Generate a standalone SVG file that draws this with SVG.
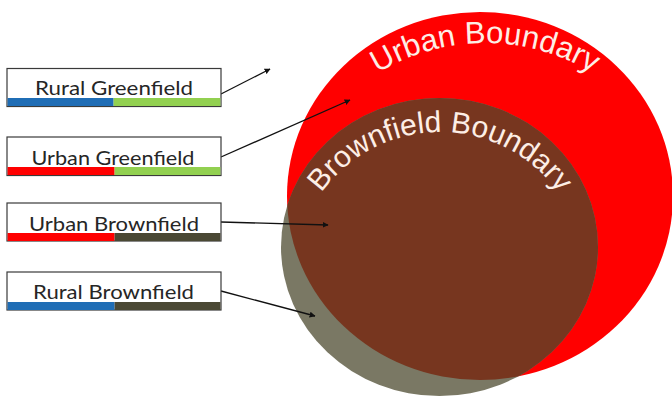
<svg xmlns="http://www.w3.org/2000/svg" width="672" height="396" viewBox="0 0 672 396">
  <style>
    .box { fill: #ffffff; stroke: #3a3a3a; stroke-width: 1.2; }
    .lbl { font-family: Lato, "Open Sans", "Liberation Sans", sans-serif; font-size: 19px; fill: #262626; text-anchor: middle; }
    .arc { font-family: "Liberation Sans", Arial, sans-serif; fill: #fdeee6; text-anchor: middle; }
    .conn { stroke: #111111; stroke-width: 1.3; fill: none; marker-end: url(#arrow); }
  </style>
  <defs>
    <marker id="arrow" viewBox="0 0 10 10" refX="9" refY="5" markerWidth="6" markerHeight="6" markerUnits="userSpaceOnUse" orient="auto">
      <path d="M0,0 L10,5 L0,10 z" fill="#111111"/>
    </marker>
    <clipPath id="redClip">
      <ellipse cx="480" cy="196" rx="193" ry="184"/>
    </clipPath>
    <path id="urbanArc" d="M306.6,146 A206,206 0 0 1 663.4,146"/>
    <path id="brownArc" d="M302.8,228.1 A146,146 0 0 1 577.2,228.1"/>
  </defs>

  <g id="urban-boundary">
    <ellipse cx="480" cy="196" rx="193" ry="184" fill="#ff0000"/>
  </g>
  <g id="rural-brownfield-area">
    <ellipse cx="439.5" cy="247" rx="158.5" ry="149" fill="#7a7864"/>
  </g>
  <g id="urban-brownfield-area">
    <ellipse cx="439.5" cy="247" rx="158.5" ry="149" fill="#77361f" clip-path="url(#redClip)"/>
  </g>
  <g id="arc-labels">
    <text class="arc" font-size="31"><textPath href="#urbanArc" startOffset="50%">Urban Boundary</textPath></text>
    <text class="arc" font-size="30"><textPath href="#brownArc" startOffset="50%">Brownfield Boundary</textPath></text>
  </g>

  <g id="connectors">
    <line class="conn" x1="221" y1="94" x2="270" y2="69"/>
    <line class="conn" x1="221" y1="157" x2="350" y2="100"/>
    <line class="conn" x1="221" y1="222" x2="328" y2="225"/>
    <line class="conn" x1="221" y1="291" x2="315" y2="316"/>
  </g>

  <g id="rural-greenfield">
    <rect class="box" x="7" y="68.5" width="214" height="38"/>
    <rect x="7.6" y="98" width="106" height="8" fill="#1f6db5"/>
    <rect x="113.6" y="98" width="106.8" height="8" fill="#92d050"/>
    <text class="lbl" x="114" y="95" textLength="158" lengthAdjust="spacingAndGlyphs">Rural Greenfield</text>
  </g>
  <g id="urban-greenfield">
    <rect class="box" x="7" y="137" width="214" height="38.5"/>
    <rect x="7.6" y="167" width="107" height="8" fill="#ff0000"/>
    <rect x="114.6" y="167" width="105.8" height="8" fill="#92d050"/>
    <text class="lbl" x="113" y="165" textLength="163" lengthAdjust="spacingAndGlyphs">Urban Greenfield</text>
  </g>
  <g id="urban-brownfield">
    <rect class="box" x="7" y="203" width="214" height="38"/>
    <rect x="7.6" y="233" width="107" height="8" fill="#ff0000"/>
    <rect x="114.6" y="233" width="105.8" height="8" fill="#4a4834"/>
    <text class="lbl" x="114" y="230.5" textLength="170" lengthAdjust="spacingAndGlyphs">Urban Brownfield</text>
  </g>
  <g id="rural-brownfield">
    <rect class="box" x="7" y="272" width="214" height="38"/>
    <rect x="7.6" y="302" width="107" height="8" fill="#1f6db5"/>
    <rect x="114.6" y="302" width="105.8" height="8" fill="#4a4834"/>
    <text class="lbl" x="113.5" y="298.5" textLength="161" lengthAdjust="spacingAndGlyphs">Rural Brownfield</text>
  </g>
</svg>
